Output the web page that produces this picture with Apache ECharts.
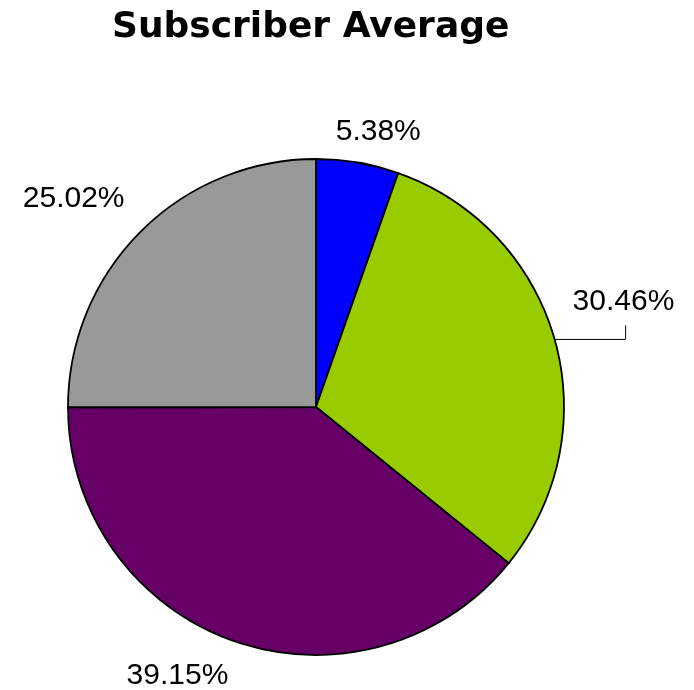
<!DOCTYPE html>
<html>
<head>
<meta charset="utf-8">
<style>
    html, body { margin: 0; padding: 0; background: #fff; }
    #chart { width: 694px; height: 690px; }
</style>
<script src="https://cdn.jsdelivr.net/npm/echarts@6/dist/echarts.min.js"></script>
</head>
<body>
<div id="chart"></div>
<script>
// 数据
const categories = ['A', 'B', 'C', 'D']
const values = [5.38, 30.46, 39.15, 25.02]
const colors = ['#0000FF', '#99CC00', '#660066', '#999999']
// label offsets from the default outside spot (dx, dy)
const labelOffsets = [[-27, -31], [13, -38], [0, 35], [-11, -33]]

;(function () {
    const myChart = echarts.init(document.getElementById('chart'))
    const option = {
        animation: false,
        title: {
            text: 'Subscriber Average',
            left: 107,
            top: 5,
            textStyle: {
                fontFamily: 'DejaVu Sans',
                fontWeight: 'bold',
                fontSize: 36,
                color: '#000'
            }
        },
        series: [
            {
                type: 'pie',
                center: [316, 407],
                radius: 248,
                startAngle: 90,
                clockwise: true,
                itemStyle: {
                    borderColor: '#000',
                    borderWidth: 1.8
                },
                label: {
                    show: true,
                    position: 'outside',
                    fontFamily: 'Liberation Sans',
                    fontSize: 30,
                    color: '#000',
                    formatter: (p) => p.value.toFixed(2) + '%'
                },
                labelLine: {
                    show: false,
                    length: 0,
                    length2: 0
                },
                labelLayout: function (params) {
                    const off = labelOffsets[params.dataIndex]
                    const res = { dx: off[0], dy: off[1] }
                    if (params.dataIndex === 1 && params.labelLinePoints) {
                        const p = params.labelLinePoints[0]
                        res.labelLinePoints = [p, [p[0] + 71, p[1]], [p[0] + 71, p[1] - 14]]
                    }
                    return res
                },
                data: categories.map((name, i) => ({
                    name: name,
                    value: values[i],
                    itemStyle: { color: colors[i] },
                    labelLine: i === 1 ? {
                        show: true,
                        lineStyle: { color: '#000', width: 1 }
                    } : { show: false }
                }))
            }
        ]
    }
    myChart.setOption(option)
    window.addEventListener('resize', () => {
        myChart.resize()
    })
})()
</script>
</body>
</html>
